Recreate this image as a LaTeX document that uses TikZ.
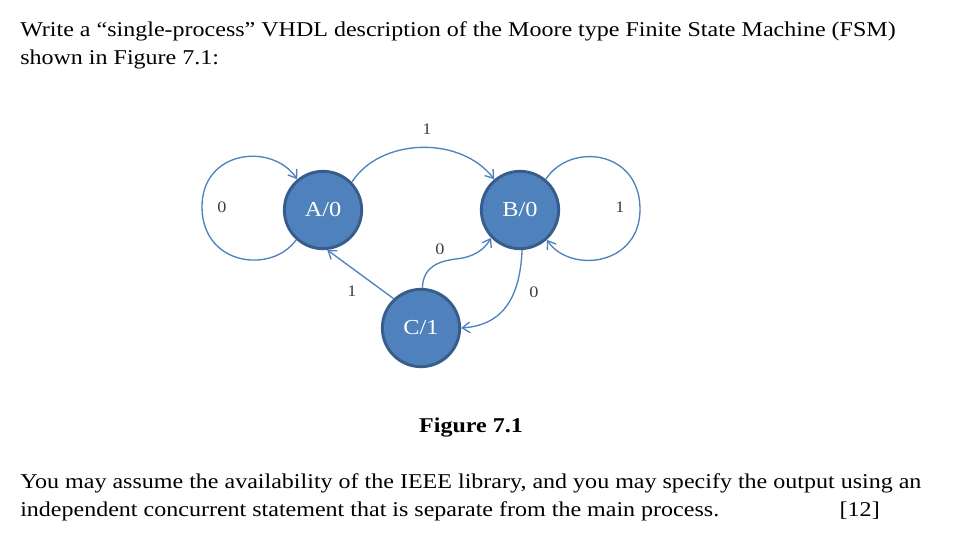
\documentclass[tikz,border=0pt]{standalone}
\usepackage{fontspec}
\setmainfont{Liberation Serif}[FakeStretch=1.14]
\usetikzlibrary{arrows.meta}
\definecolor{stfill}{HTML}{4F81BD}
\definecolor{stline}{HTML}{385D8A}
\definecolor{lblgray}{HTML}{404040}

\begin{document}
\begin{tikzpicture}[
    x=0.75pt, y=-0.75pt,
    state/.style={circle, draw=stline, line width=2.2pt, fill=stfill, minimum size=58pt, inner sep=0pt, text=white, font=\fontsize{16}{18}\selectfont},
    edge/.style={draw=stfill, line width=1pt, -{Straight Barb[angle=70:7pt]}},
    lbl/.style={font=\fontsize{12}{14}\selectfont, text=lblgray, inner sep=0pt},
    txt/.style={anchor=base west, inner sep=0pt, font=\fontsize{15.8}{19}\selectfont}
]
\useasboundingbox (0,0) rectangle (955,559);

% question text
\node[txt] (q1) at (20,37) {Write a “single-process” VHDL description of the Moore type Finite State Machine (FSM)};
\node[txt] (q2) at (20,65) {shown in Figure 7.1:};

% states
\node[state] (A) at (323,210) {A/0};
\node[state] (B) at (520,210) {B/0};
\node[state] (C) at (421,328) {C/1};

% transitions
\draw[edge] (A.228) .. controls (272,274) and (203,266) .. (202,208) .. controls (201,150) and (272,142) .. (A.130);
\draw[edge] (B.50) .. controls (570,142) and (639,150) .. (640,208) .. controls (641,266) and (570,274) .. (B.312);
\draw[edge] (A.44) .. controls (380,138) and (460,135) .. (B.130);
\draw[edge] (C.133) -- (A.276);
\draw[edge] (C.88) .. controls (423,266) and (440,261) .. (456,259) .. controls (474,257) and (484,250) .. (B.224);
\draw[edge] (B.273) .. controls (520,295) and (505,325) .. (C.0);

\node[lbl] (la) at (222,207) {0};
\node[lbl] (lb) at (620,207) {1};
\node[lbl] (lab) at (427,129) {1};
\node[lbl] (lca) at (352,291) {1};
\node[lbl] (lcb) at (440,249) {0};
\node[lbl] (lbc) at (534,292) {0};

% caption and remark
\node[txt, anchor=base, font=\fontsize{15.8}{19}\selectfont\bfseries] (cap) at (471,432) {Figure 7.1};
\node[txt] (n1) at (20,488) {You may assume the availability of the IEEE library, and you may specify the output using an};
\node[txt] (n2) at (20,516) {independent concurrent statement that is separate from the main process.};
\node[txt, anchor=base east] (mk) at (880,516) {[12]};
\end{tikzpicture}
\end{document}
